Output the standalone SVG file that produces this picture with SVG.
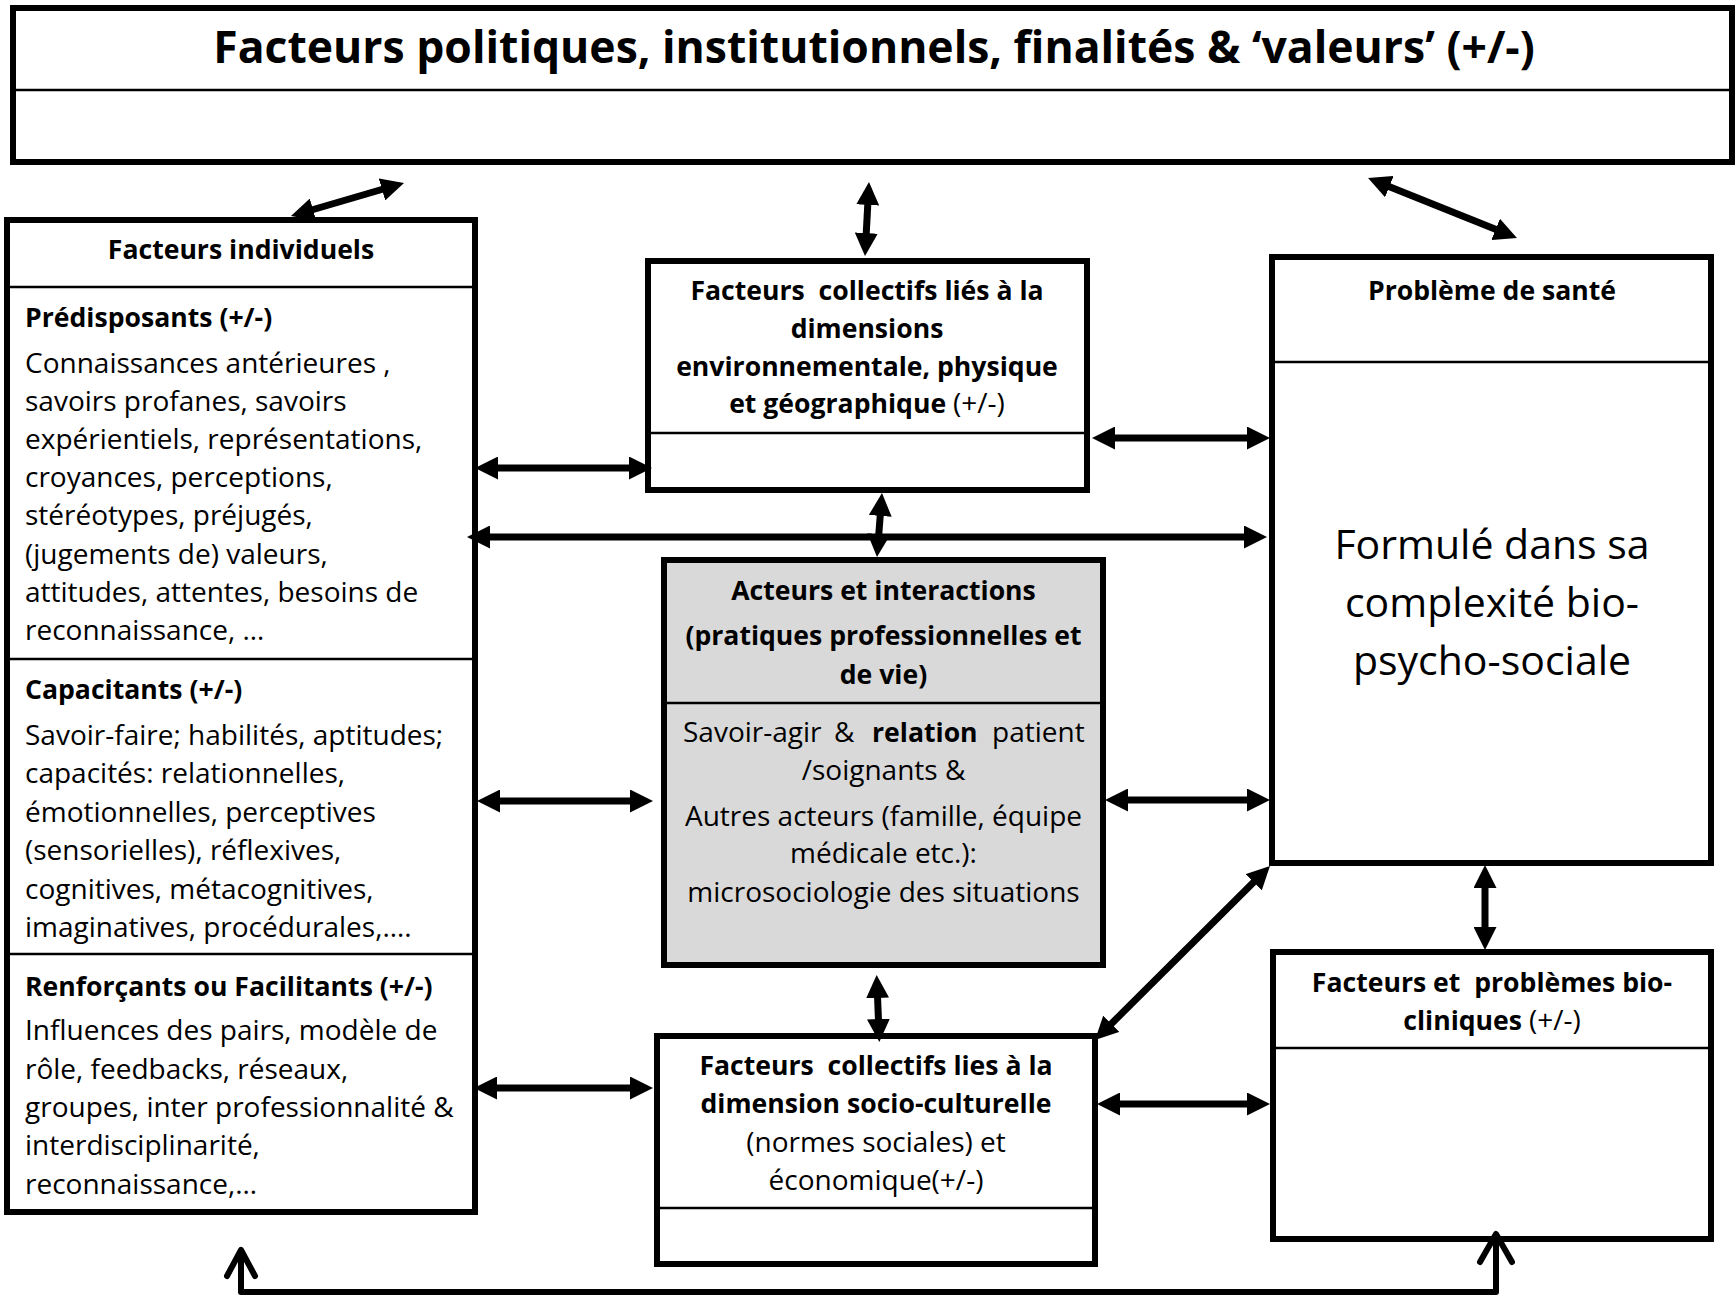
<svg xmlns="http://www.w3.org/2000/svg" width="1735" height="1296" viewBox="0 0 1735 1296">
  <style>
    .box { fill: #ffffff; stroke: #000000; stroke-width: 6; }
    .grey { fill: #d9d9d9; }
    .sep { stroke: #000000; stroke-width: 2.5; }
    text { font-family: "Open Sans", "Liberation Sans", sans-serif; fill: #000000; }
    .r { font-size: 28px; font-weight: normal; }
    .b { font-size: 26.6px; font-weight: bold; }
    .big { font-size: 41px; font-weight: normal; }
    .title { font-size: 44.5px; font-weight: bold; }
    .mid { text-anchor: middle; }
    .pre { white-space: pre; }
    .link { stroke: #000000; stroke-width: 7; fill: none; marker-start: url(#head); marker-end: url(#head); }
    .loop { stroke: #000000; stroke-width: 6; fill: none; stroke-linecap: round; stroke-linejoin: round; }
  </style>
  <defs>
    <marker id="head" viewBox="0 0 23 23" markerWidth="23" markerHeight="23" refX="14" refY="11.5" markerUnits="userSpaceOnUse" orient="auto-start-reverse">
      <path d="M0,0 L23,11.5 L0,23 z" fill="#000000"/>
    </marker>
  </defs>

  <rect width="1735" height="1296" fill="#ffffff"/>

  <!-- political / institutional banner -->
  <g id="politique">
    <rect class="box" x="13" y="8" width="1719" height="154"/>
    <line class="sep" x1="13" y1="90" x2="1732" y2="90"/>
    <text class="title mid" x="874" y="63">Facteurs politiques, institutionnels, finalités &amp; ‘valeurs’ (+/-)</text>
  </g>

  <!-- individual factors -->
  <g id="individuels">
    <rect class="box" x="7" y="220" width="468" height="992"/>
    <line class="sep" x1="7" y1="287" x2="475" y2="287"/>
    <line class="sep" x1="7" y1="659" x2="475" y2="659"/>
    <line class="sep" x1="7" y1="954" x2="475" y2="954"/>
    <text class="b mid" x="241" y="259">Facteurs individuels</text>
    <text class="b" x="25" y="327">Prédisposants (+/-)</text>
    <text class="r" x="25">
      <tspan x="25" y="373">Connaissances antérieures ,</tspan>
      <tspan x="25" y="411">savoirs profanes, savoirs</tspan>
      <tspan x="25" y="449">expérientiels, représentations,</tspan>
      <tspan x="25" y="487">croyances, perceptions,</tspan>
      <tspan x="25" y="525">stéréotypes, préjugés,</tspan>
      <tspan x="25" y="564">(jugements de) valeurs,</tspan>
      <tspan x="25" y="602">attitudes, attentes, besoins de</tspan>
      <tspan x="25" y="640">reconnaissance, …</tspan>
    </text>
    <text class="b" x="25" y="699">Capacitants (+/-)</text>
    <text class="r" x="25">
      <tspan x="25" y="745">Savoir-faire; habilités, aptitudes;</tspan>
      <tspan x="25" y="783">capacités: relationnelles,</tspan>
      <tspan x="25" y="822">émotionnelles, perceptives</tspan>
      <tspan x="25" y="860">(sensorielles), réflexives,</tspan>
      <tspan x="25" y="899">cognitives, métacognitives,</tspan>
      <tspan x="25" y="937">imaginatives, procédurales,….</tspan>
    </text>
    <text class="b" x="25" y="996">Renforçants ou Facilitants (+/-)</text>
    <text class="r" x="25">
      <tspan x="25" y="1040">Influences des pairs, modèle de</tspan>
      <tspan x="25" y="1079">rôle, feedbacks, réseaux,</tspan>
      <tspan x="25" y="1117">groupes, inter professionnalité &amp;</tspan>
      <tspan x="25" y="1155">interdisciplinarité,</tspan>
      <tspan x="25" y="1194">reconnaissance,…</tspan>
    </text>
  </g>

  <!-- environmental / physical / geographic collective factors -->
  <g id="collectifs-environnement">
    <rect class="box" x="648" y="261" width="439" height="229"/>
    <line class="sep" x1="648" y1="433" x2="1087" y2="433"/>
    <text class="b mid pre" x="867" y="300">Facteurs  collectifs liés à la</text>
    <text class="b mid" x="867" y="338">dimensions</text>
    <text class="b mid" x="867" y="376">environnementale, physique</text>
    <text class="b mid" x="867" y="413">et géographique <tspan class="r">(+/-)</tspan></text>
  </g>

  <!-- actors and interactions -->
  <g id="acteurs">
    <rect class="box grey" x="664" y="560" width="439" height="405"/>
    <line class="sep" x1="664" y1="703" x2="1103" y2="703"/>
    <text class="b mid" x="883.5" y="600">Acteurs et interactions</text>
    <text class="b mid" x="883.5" y="645">(pratiques professionnelles et</text>
    <text class="b mid" x="883.5" y="684">de vie)</text>
    <text class="r" y="742">
      <tspan x="683">Savoir-agir</tspan>
      <tspan x="834">&amp;</tspan>
      <tspan x="872" font-weight="bold" font-size="26.6">relation</tspan>
      <tspan x="992">patient</tspan>
    </text>
    <text class="r mid" x="883.5" y="780">/soignants &amp;</text>
    <text class="r mid" x="883.5" y="826">Autres acteurs (famille, équipe</text>
    <text class="r mid" x="883.5" y="863">médicale etc.):</text>
    <text class="r mid" x="883.5" y="902">microsociologie des situations</text>
  </g>

  <!-- socio-cultural / economic collective factors -->
  <g id="collectifs-socio">
    <rect class="box" x="657" y="1036" width="438" height="228"/>
    <line class="sep" x1="657" y1="1208" x2="1095" y2="1208"/>
    <text class="b mid pre" x="876" y="1075">Facteurs  collectifs lies à la</text>
    <text class="b mid" x="876" y="1113">dimension socio-culturelle</text>
    <text class="r mid" x="876" y="1152">(normes sociales) et</text>
    <text class="r mid" x="876" y="1190">économique(+/-)</text>
  </g>

  <!-- health problem -->
  <g id="probleme-sante">
    <rect class="box" x="1272" y="257" width="439" height="606"/>
    <line class="sep" x1="1272" y1="362" x2="1711" y2="362"/>
    <text class="b mid" x="1492" y="300">Problème de santé</text>
    <text class="big mid" x="1492" y="559">Formulé dans sa</text>
    <text class="big mid" x="1492" y="617">complexité bio-</text>
    <text class="big mid" x="1492" y="675">psycho-sociale</text>
  </g>

  <!-- bio-clinical factors -->
  <g id="bio-cliniques">
    <rect class="box" x="1273" y="952" width="438" height="287"/>
    <line class="sep" x1="1273" y1="1048" x2="1711" y2="1048"/>
    <text class="b mid pre" x="1492" y="992">Facteurs et  problèmes bio-</text>
    <text class="b mid" x="1492" y="1030">cliniques <tspan class="r">(+/-)</tspan></text>
  </g>

  <!-- connectors -->
  <g id="connecteurs">
    <line class="link" x1="299.6" y1="213.5" x2="395.4" y2="185.5"/>
    <line class="link" x1="868.5" y1="191" x2="865.5" y2="247"/>
    <line class="link" x1="1376.4" y1="181.4" x2="1508.6" y2="234.6"/>
    <line class="link" x1="484" y1="468" x2="643" y2="468"/>
    <line class="link" x1="1101" y1="438" x2="1261" y2="438"/>
    <line class="link" x1="476" y1="537" x2="1258" y2="537"/>
    <line class="link" x1="881.3" y1="502" x2="877.7" y2="548"/>
    <line class="link" x1="486" y1="801" x2="644" y2="801"/>
    <line class="link" x1="1114" y1="800" x2="1261" y2="800"/>
    <line class="link" x1="877" y1="984" x2="879" y2="1033"/>
    <line class="link" x1="483" y1="1088" x2="644" y2="1088"/>
    <line class="link" x1="1106" y1="1104" x2="1261" y2="1104"/>
    <line class="link" x1="1101.4" y1="1033.7" x2="1263.6" y2="872.3"/>
    <line class="link" x1="1485" y1="874" x2="1485" y2="941"/>
    <path class="loop" d="M241,1252 V1292 H1496 V1236"/>
    <polyline class="loop" points="227,1276 241,1250 255,1276"/>
    <polyline class="loop" points="1480,1262 1496,1234 1512,1262"/>
  </g>
</svg>
